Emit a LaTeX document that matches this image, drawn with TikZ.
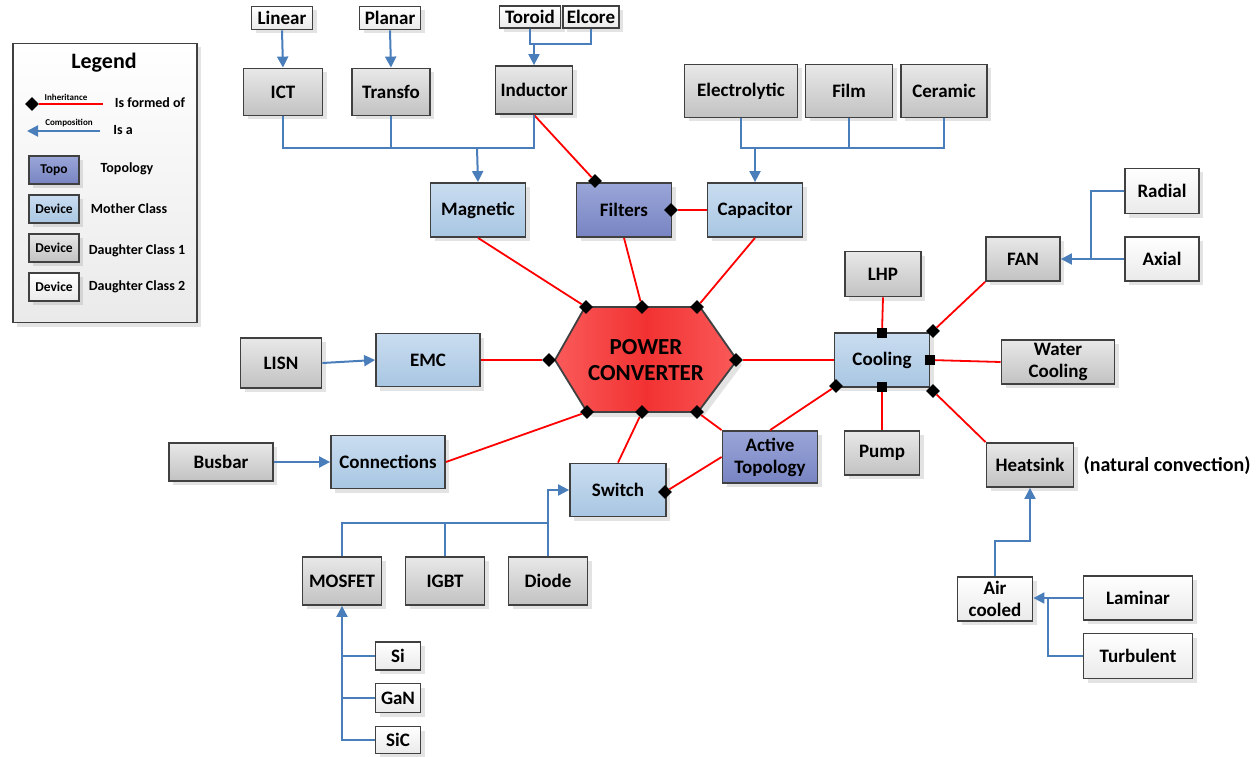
\documentclass[tikz,border=0pt]{standalone}
\usepackage{fontspec}
\setmainfont{Carlito}
\usetikzlibrary{shapes.geometric,arrows.meta,shadows,calc}
\definecolor{bd}{HTML}{404040}
\definecolor{bl}{HTML}{4A7EBB}
\definecolor{tpa}{HTML}{9AA6D8}
\definecolor{tpb}{HTML}{7884C2}
\definecolor{mca}{HTML}{CADDF0}
\definecolor{mcb}{HTML}{A8C6E2}
\definecolor{ga}{HTML}{E8E8E8}
\definecolor{gb}{HTML}{C2C2C2}
\definecolor{wa}{HTML}{FFFFFF}
\definecolor{wb}{HTML}{EAEAEA}
\definecolor{hxa}{HTML}{FA5A5A}
\definecolor{hxb}{HTML}{F23232}
\tikzset{
  base/.style={draw=bd, line width=1.8pt, font=\bfseries\fontsize{19}{22}\selectfont,
    align=center, inner sep=1pt,
    drop shadow={opacity=0.22, shadow xshift=4pt, shadow yshift=-4pt}},
  topo/.style={base, top color=tpa, bottom color=tpb},
  mother/.style={base, top color=mca, bottom color=mcb},
  done/.style={base, top color=ga, bottom color=gb},
  dtwo/.style={base, top color=wa, bottom color=wb},
  sw/.style={font=\bfseries\fontsize{13.5}{15}\selectfont, minimum width=50, minimum height=28},
  dmd/.style={diamond, fill=black, inner sep=0pt, minimum width=14, minimum height=14},
  sqm/.style={rectangle, fill=black, inner sep=0pt, minimum size=10},
  redl/.style={draw=red, line width=1.8pt},
  bluel/.style={draw=bl, line width=2pt},
  arr/.style={bluel, -{Triangle[length=11pt,width=11pt]}},
  lgt/.style={font=\bfseries\fontsize{14}{16}\selectfont, inner sep=0pt},
  tiny/.style={font=\bfseries\fontsize{9}{10}\selectfont, inner sep=0pt},
}
\begin{document}
\begin{tikzpicture}[x=1pt,y=-1pt]
\useasboundingbox (0,0) rectangle (1256,757);

% ---------- Legend ----------
\node[draw=bd, line width=1.8pt, top color=white, bottom color=wb,
  drop shadow={opacity=0.22, shadow xshift=4pt, shadow yshift=-4pt},
  minimum width=184, minimum height=279] (legendbox) at (105,183) {};
\node[font=\bfseries\fontsize{22}{24}\selectfont] (legendtitle) at (104,63) {Legend};
\node[dmd] (ldmd) at (32,104) {};
\coordinate (lred) at (103,104);
\draw[redl] (ldmd) -- (lred);
\node[tiny] (linh) at (66,97) {Inheritance};
\node[lgt] (lform) at (150,103) {Is formed of};
\coordinate (lcomp) at (100,131);
\coordinate (lcompend) at (27,131);
\draw[arr] (lcomp) -- (lcompend);
\node[tiny] (lcompt) at (69,123) {Composition};
\node[lgt] (lisa) at (123,130) {Is a};
\node[topo, sw] (ltopo) at (54,170) {Topo};
\node[lgt] (ltopot) at (127,169) {Topology};
\node[mother, sw] (lmoth) at (54,209) {Device};
\node[lgt] (lmotht) at (129,209) {Mother Class};
\node[done, sw] (ld1) at (54,248) {Device};
\node[lgt] (ld1t) at (137,251) {Daughter Class 1};
\node[dtwo, sw] (ld2) at (54,287) {Device};
\node[lgt] (ld2t) at (137,287) {Daughter Class 2};

% ---------- Boxes ----------
\node[dtwo, minimum width=61, minimum height=23] (linear) at (282,18) {Linear};
\node[dtwo, minimum width=61, minimum height=23] (planar) at (390,18) {Planar};
\node[dtwo, minimum width=61, minimum height=22] (toroid) at (530,17) {Toroid};
\node[dtwo, minimum width=56, minimum height=22] (elcore) at (591,17) {Elcore};
\node[done, minimum width=79, minimum height=47] (ict) at (283,92) {ICT};
\node[done, minimum width=78, minimum height=47] (transfo) at (391,92) {Transfo};
\node[done, minimum width=77, minimum height=48] (inductor) at (534,90) {Inductor};
\node[done, minimum width=113, minimum height=53] (electro) at (741,91) {Electrolytic};
\node[done, minimum width=87, minimum height=53] (film) at (849,91) {Film};
\node[done, minimum width=86, minimum height=53] (ceramic) at (944,91) {Ceramic};
\node[mother, minimum width=95, minimum height=54] (magnetic) at (478,210) {Magnetic};
\node[topo, minimum width=95, minimum height=54] (filters) at (624,210) {Filters};
\node[mother, minimum width=95, minimum height=54] (capacitor) at (755,210) {Capacitor};
\node[done, minimum width=81, minimum height=50] (lisn) at (281,363) {LISN};
\node[mother, minimum width=104, minimum height=53] (emc) at (428,360) {EMC};
\node[done, minimum width=104, minimum height=38] (busbar) at (221,462) {Busbar};
\node[mother, minimum width=114, minimum height=53] (connections) at (388,462) {Connections};
\node[mother, minimum width=96, minimum height=53] (switch) at (618,490) {Switch};
\node[done, minimum width=79, minimum height=48] (mosfet) at (342,581) {MOSFET};
\node[done, minimum width=79, minimum height=48] (igbt) at (445,581) {IGBT};
\node[done, minimum width=79, minimum height=48] (diode) at (548,581) {Diode};
\node[dtwo, minimum width=45, minimum height=28] (si) at (398,656) {Si};
\node[dtwo, minimum width=45, minimum height=29] (gan) at (398,698) {GaN};
\node[dtwo, minimum width=45, minimum height=27] (sic) at (398,740) {SiC};
\node[topo, minimum width=95, minimum height=52] (active) at (770,457) {Active\\Topology};
\node[done, minimum width=76, minimum height=45] (lhp) at (883,274) {LHP};
\node[mother, minimum width=95, minimum height=54] (cooling) at (882,360) {Cooling};
\node[done, minimum width=74, minimum height=44] (fan) at (1023,259) {FAN};
\node[dtwo, minimum width=74, minimum height=45] (radial) at (1162,191) {Radial};
\node[dtwo, minimum width=74, minimum height=44] (axial) at (1162,259) {Axial};
\node[done, minimum width=113, minimum height=44] (water) at (1058,362) {Water\\Cooling};
\node[done, minimum width=75, minimum height=44] (pump) at (882,453) {Pump};
\node[done, minimum width=87, minimum height=44] (heatsink) at (1030,465) {Heatsink};
\node[font=\bfseries\fontsize{20}{22}\selectfont, inner sep=0pt] (natconv) at (1167,466) {(natural convection)};
\node[dtwo, minimum width=75, minimum height=44] (aircooled) at (995,599) {Air\\cooled};
\node[dtwo, minimum width=109, minimum height=44] (laminar) at (1138,598) {Laminar};
\node[dtwo, minimum width=109, minimum height=45] (turbulent) at (1138,656) {Turbulent};

% ---------- Power converter ----------
\path[draw=bd, line width=1.8pt, left color=hxa, right color=hxa, middle color=hxb,
  drop shadow={opacity=0.22, shadow xshift=5pt, shadow yshift=-5pt}]
  (555,360) -- (585,307) -- (700,307) -- (737,360) -- (698,412) -- (587,412) -- cycle;
\node[font=\bfseries\fontsize{23}{26}\selectfont, align=center] (pc) at (646,360) {POWER\\CONVERTER};

% ---------- markers ----------
\node[dmd] (hTL) at (586,307) {};
\node[dmd] (hTM) at (642,307) {};
\node[dmd] (hTR) at (697,307) {};
\node[dmd] (hL) at (549,360) {};
\node[dmd] (hR) at (736,360) {};
\node[dmd] (hBL) at (587,412) {};
\node[dmd] (hBM) at (642,412) {};
\node[dmd] (hBR) at (697,412) {};
\node[dmd] (fTop) at (595,181) {};
\node[dmd] (fR) at (671,210) {};
\node[dmd] (swR) at (665,492) {};
\node[sqm] (cTop) at (882,333) {};
\node[sqm] (cR) at (930,360) {};
\node[sqm] (cB) at (882,387) {};
\node[dmd] (cTR) at (933,331) {};
\node[dmd] (cBR) at (933,391) {};
\node[dmd] (cBL) at (836,386) {};

% ---------- red connectors ----------
\draw[redl] (inductor.south) -- (fTop);
\draw[redl] (fR) -- (capacitor.west);
\draw[redl] (magnetic.south) -- (hTL);
\draw[redl] (filters.south) -- (hTM);
\draw[redl] (capacitor.south) -- (hTR);
\draw[redl] (emc.east) -- (hL);
\draw[redl] (hR) -- (cooling.west);
\draw[redl] (connections.east) -- (hBL);
\draw[redl] (switch.north) -- (hBM);
\draw[redl] (active.north west) -- (hBR);
\draw[redl] (active.west) -- (swR);
\draw[redl] (active.north) -- (cBL);
\draw[redl] (lhp.south) -- (cTop);
\draw[redl] (cR) -- (water.west);
\draw[redl] (cB) -- (pump.north);
\draw[redl] (cTR) -- (fan.south west);
\draw[redl] (cBR) -- (heatsink.north west);

% ---------- blue connectors ----------
\draw[arr] (linear.south) -- (ict.north);
\draw[arr] (planar.south) -- (transfo.north);
\coordinate (jind) at (534,44);
\draw[bluel] (toroid.south) |- (elcore.south |- jind) -- (elcore.south);
\draw[arr] (jind) -- (inductor.north);
\coordinate (bm) at (477,148);
\draw[bluel] (ict.south) |- (inductor.south |- bm) -- (inductor.south);
\draw[bluel] (transfo.south) -- (transfo.south |- bm);
\draw[arr] (bm) -- (magnetic.north);
\coordinate (bc) at (755,148);
\draw[bluel] (electro.south) |- (ceramic.south |- bc) -- (ceramic.south);
\draw[bluel] (film.south) -- (film.south |- bc);
\draw[arr] (bc) -- (capacitor.north);
\draw[arr] (lisn.east) -- (emc.west);
\draw[arr] (busbar.east) -- (connections.west);
\coordinate (bs) at (548,523);
\draw[bluel] (mosfet.north) |- (bs);
\draw[bluel] (igbt.north) -- (igbt.north |- bs);
\draw[arr] (diode.north) |- (switch.west);
\draw[arr] (sic.west) -| (mosfet.south);
\draw[bluel] (si.west) -- (si.west -| mosfet.south);
\draw[bluel] (gan.west) -- (gan.west -| mosfet.south);
\coordinate (bf) at (1091,259);
\draw[bluel] (radial.west) -| (bf);
\draw[arr] (axial.west) -- (fan.east);
\coordinate (ba) at (1030,541);
\draw[arr] (aircooled.north) |- (ba) -- (heatsink.south);
\draw[arr] (laminar.west) -- (laminar.west -| aircooled.east);
\coordinate (bt) at (1048,598);
\draw[bluel] (turbulent.west) -| (bt);
\end{tikzpicture}
\end{document}
